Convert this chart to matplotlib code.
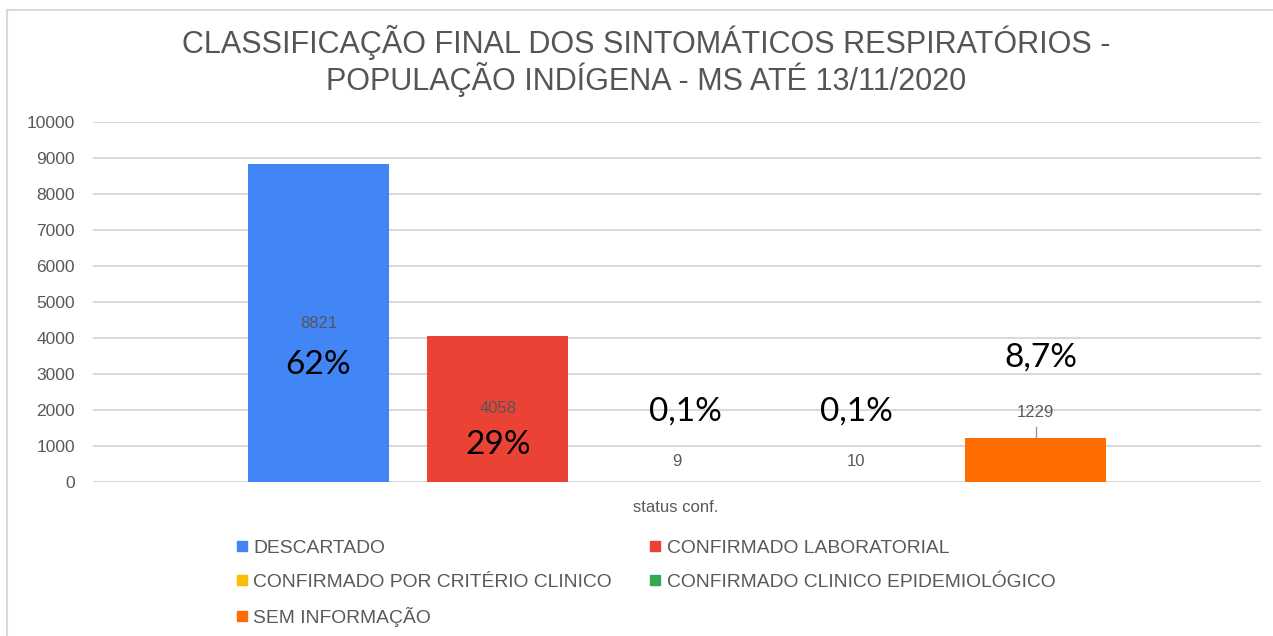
import matplotlib.pyplot as plt
from matplotlib.lines import Line2D

# dados
categorias = ["DESCARTADO", "CONFIRMADO LABORATORIAL", "CONFIRMADO POR CRITÉRIO CLINICO",
              "CONFIRMADO CLINICO EPIDEMIOLÓGICO", "SEM INFORMAÇÃO"]
valores = [8821, 4058, 9, 10, 1229]
percentuais = ["62%", "29%", "0,1%", "0,1%", "8,7%"]
cores = ["#4285F4", "#EA4335", "#FBBC04", "#34A853", "#FF6D01"]
yticks = list(range(0, 10001, 1000))

titulo = "CLASSIFICAÇÃO FINAL DOS SINTOMÁTICOS RESPIRATÓRIOS -\nPOPULAÇÃO INDÍGENA - MS ATÉ 13/11/2020"
cinza = "#595959"

plt.rcParams['font.family'] = ['Liberation Sans', 'DejaVu Sans']

fig = plt.figure(figsize=(12.73, 6.36), dpi=100)
ax = fig.add_axes([0.0731, 0.2421, 0.9175, 0.5661])

x = list(range(len(valores)))
barras = ax.bar(x, valores, width=0.787, color=cores, zorder=3)

ax.set_ylim(0, 10000)
ax.set_xlim(-1.258, 5.258)
ax.set_yticks(yticks)
ax.set_yticklabels([str(v) for v in yticks], fontsize=12.5, color=cinza)
ax.tick_params(axis='y', length=0, pad=13)
ax.set_xticks([])
ax.grid(axis='y', color='#d9d9d9', linewidth=1.5, zorder=0)
for s in ax.spines.values():
    s.set_visible(False)

# rótulos de valor
for i, v in enumerate(valores):
    if v > 3000:
        ax.text(i, v / 2, str(v), ha='center', va='center', fontsize=12, color='#555555', zorder=4)
    elif v > 100:
        ax.text(i, 1940, str(v), ha='center', va='center', fontsize=12, color=cinza, zorder=4)
        ax.plot([i, i], [v + 20, 1525], color='#999999', linewidth=1, zorder=4)
    else:
        ax.text(i, 560, str(v), ha='center', va='center', fontsize=12, color=cinza, zorder=4)

# percentuais (caixas de texto)
pos_pct = [(0, 3250), (1, 1030), (2.045, 1950), (3.0, 1950), (4.03, 3460)]
for (px, py), p in zip(pos_pct, percentuais):
    ax.text(px, py, p, ha='center', va='center', fontsize=24, color='black',
            family=['Lato', 'DejaVu Sans'], zorder=5)

fig.text(646 / 1273, 1 - 61 / 636, titulo, ha='center', va='center', fontsize=22,
         color='#555555', linespacing=1.05)
fig.text(676 / 1273, 1 - 507 / 636, "status conf.", ha='center', va='center',
         fontsize=12, color=cinza)

# legenda em ordem de linhas
ordem = [0, 2, 4, 1, 3]
handles = [Line2D([], [], marker='s', linestyle='', markersize=7.5, color=cores[i]) for i in ordem]
labels = [categorias[i] for i in ordem]
fig.legend(handles, labels, ncol=2, loc='upper left', bbox_to_anchor=(236 / 1273, 1 - 539 / 636),
           frameon=False, fontsize=13.9, labelcolor=cinza, handlelength=0.6, handletextpad=0.3,
           labelspacing=0.86, columnspacing=1.95, borderpad=0, borderaxespad=0)

# moldura
fig.add_artist(Line2D([7 / 1273, 7 / 1273], [0, 1 - 10 / 636], color='#d9d9d9', linewidth=1.5))
fig.add_artist(Line2D([7 / 1273, 1], [1 - 10 / 636, 1 - 10 / 636], color='#d9d9d9', linewidth=1.5))

fig.savefig("out.png", dpi=100)
